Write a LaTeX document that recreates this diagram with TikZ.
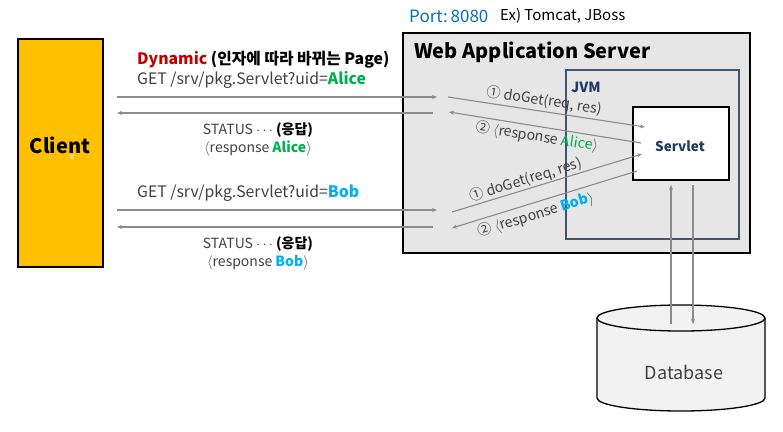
\documentclass[tikz,border=0pt]{standalone}
\usepackage{fontspec}
\setmainfont{Noto Sans CJK KR}
\usetikzlibrary{arrows.meta}
\definecolor{clientfill}{HTML}{FFC000}
\definecolor{wasfill}{HTML}{E6E6E6}
\definecolor{jvmline}{HTML}{44546A}
\definecolor{navy}{HTML}{1F3864}
\definecolor{portblue}{HTML}{0070C0}
\definecolor{dynred}{HTML}{C00000}
\definecolor{alicegreen}{HTML}{00B050}
\definecolor{bobblue}{HTML}{00B0F0}
\definecolor{arrowgray}{HTML}{8C8C8C}
\definecolor{textgray}{HTML}{404040}
\definecolor{dbfill}{HTML}{F2F2F2}
\newcommand{\fs}[1]{\fontsize{#1}{#1}\selectfont}
\tikzset{
  conn/.style={draw=arrowgray, line width=1.1pt, -{Stealth[length=5pt,width=4pt]}},
  txt/.style={inner sep=0pt, text=textgray, font=\fs{15.8}},
  lbl/.style={inner sep=0pt, text=textgray, font=\fs{14.2}},
}
\begin{document}
\begin{tikzpicture}[x=1pt,y=-1pt]
\useasboundingbox (0,0) rectangle (783,431);
% Client
\node[draw=black, line width=1.6pt, fill=clientfill, minimum width=85pt, minimum height=228pt, inner sep=0pt] (client) at (60.5,153) {};
\node[inner sep=0pt, font=\bfseries\fs{20}] (clienttxt) at (60,145) {Client};
\node[inner sep=0pt, text=white, font=\fs{9}] (vmark) at (72,157) {v};
% WAS
\node[draw=black, line width=1.8pt, fill=wasfill, minimum width=347pt, minimum height=220pt, inner sep=0pt] (was) at (576.5,143) {};
\node[anchor=west, inner sep=0pt, font=\bfseries\fs{20}] (wastitle) at (414,52) {Web Application Server};
\node[anchor=west, inner sep=0pt, font=\fs{17}, text=portblue] (port) at (409,16) {Port:\,8080};
\node[anchor=west, inner sep=0pt, font=\fs{15}] (ex) at (500,16) {Ex) Tomcat, JBoss};
% JVM
\node[draw=jvmline, line width=1.2pt, minimum width=173pt, minimum height=169pt, inner sep=0pt] (jvm) at (652.5,154.5) {};
\node[anchor=west, inner sep=0pt, font=\bfseries\fs{14}, text=navy] (jvmtxt) at (571,87) {JVM};
% Servlet
\node[draw=black, line width=1.2pt, fill=white, minimum width=96pt, minimum height=73pt, inner sep=0pt] (servlet) at (681,143.5) {};
\node[inner sep=0pt, font=\bfseries\fs{13.5}, text=navy] (servlettxt) at (680,146) {Servlet};
% Database
\path[fill=dbfill, draw=black, line width=1.3pt] (597,318) -- (597,398) arc[start angle=180, end angle=0, x radius=84, y radius=13] -- (765,318);
\draw[fill=dbfill, line width=1.3pt] (681,318) ellipse[x radius=84, y radius=13];
\node[inner sep=0pt, font=\fs{18}, text=textgray] (db) at (684,372) {Database};
% coordinates
\coordinate (c1a) at (117,97);  \coordinate (c1b) at (437,97);
\coordinate (c2a) at (433,113); \coordinate (c2b) at (117,113);
\coordinate (c3a) at (117,210); \coordinate (c3b) at (437,210);
\coordinate (c4a) at (433,227); \coordinate (c4b) at (117,227);
\coordinate (d1a) at (448,97);  \coordinate (d1b) at (645,127);
\coordinate (d2a) at (641,143); \coordinate (d2b) at (449,112);
\coordinate (d3a) at (452,212); \coordinate (d3b) at (642,154);
\coordinate (d4a) at (637,171); \coordinate (d4b) at (452,228);
\coordinate (dbup) at (671,324); \coordinate (svup) at (671,185);
\coordinate (svdn) at (693,185); \coordinate (dbdn) at (693,324);
% horizontal arrows
\draw[conn] (c1a) -- (c1b);
\draw[conn] (c2a) -- (c2b);
\draw[conn] (c3a) -- (c3b);
\draw[conn] (c4a) -- (c4b);
% diagonal arrows
\draw[conn] (d1a) -- (d1b);
\draw[conn] (d2a) -- (d2b);
\draw[conn] (d3a) -- (d3b);
\draw[conn] (d4a) -- (d4b);
% db arrows
\draw[conn] (dbup) -- (svup);
\draw[conn] (svdn) -- (dbdn);
% left texts
\node[anchor=west, inner sep=0pt, font=\bfseries\fs{15.8}] (dyn) at (137,60) {\textcolor{dynred}{Dynamic} (인자에 따라 바뀌는 Page)};
\node[txt, anchor=west] (get1) at (137,80) {GET /srv/pkg.Servlet?uid=\textcolor{alicegreen}{\textbf{Alice}}};
\node[txt, font=\fs{14}] (st1) at (258,130) {STATUS $\cdots$ \textcolor{black}{\textbf{(응답)}}};
\node[txt, font=\fs{14}] (rs1) at (258,148) {$\langle$response \textcolor{alicegreen}{\textbf{Alice}}$\rangle$};
\node[txt, anchor=west] (get2) at (137,193) {GET /srv/pkg.Servlet?uid=\textcolor{bobblue}{\textbf{Bob}}};
\node[txt, font=\fs{14}] (st2) at (258,244) {STATUS $\cdots$ \textcolor{black}{\textbf{(응답)}}};
\node[txt, font=\fs{14}] (rs2) at (258,263) {$\langle$response \textcolor{bobblue}{\textbf{Bob}}$\rangle$};
% diagonal labels
\node[lbl, rotate=-8.7] (l1) at (544,101) {① doGet(req, res)};
\node[lbl, rotate=-9] (l2) at (537,137) {② $\langle$response \textcolor{alicegreen}{Alice}$\rangle$};
\node[lbl, rotate=17] (l3) at (526,180) {① doGet(req, res)};
\node[lbl, rotate=17] (l4) at (536,215) {② $\langle$response \textcolor{bobblue}{\textbf{Bob}}$\rangle$};
\end{tikzpicture}
\end{document}
